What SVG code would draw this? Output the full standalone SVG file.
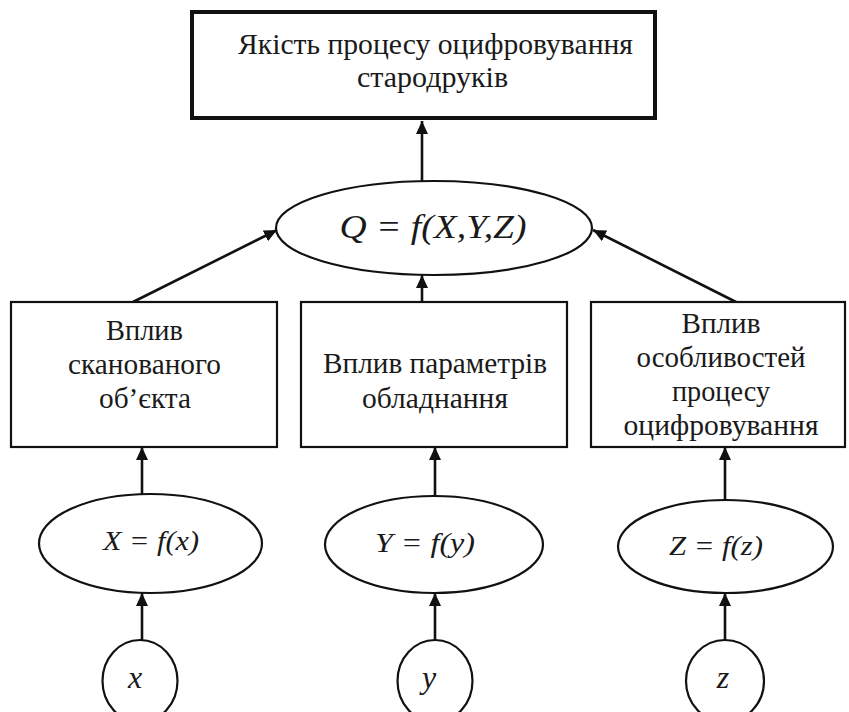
<svg xmlns="http://www.w3.org/2000/svg" width="849" height="712" viewBox="0 0 849 712">
<defs>
<marker id="ah" markerUnits="userSpaceOnUse" markerWidth="14" markerHeight="12" refX="13" refY="6" orient="auto">
<path d="M0,0 L13,6 L0,12 z" fill="#111"/>
</marker>
<style>
.box{fill:#fff;stroke:#111;stroke-width:2.2}
.top{fill:#fff;stroke:#111;stroke-width:4}
.ell{fill:#fff;stroke:#111;stroke-width:2.2}
.t{font-family:"Liberation Serif","Times New Roman",serif;font-size:29.5px;fill:#1a1a1a;text-anchor:middle}
.tt{font-family:"Liberation Serif","Times New Roman",serif;font-size:30px;fill:#1a1a1a;text-anchor:middle}
.m{font-family:"Liberation Serif","Times New Roman",serif;font-style:italic;fill:#1a1a1a;text-anchor:middle}
.c line{stroke:#111;stroke-width:2.6;marker-end:url(#ah)}
</style>
</defs>
<rect width="849" height="712" fill="#fff"/>
<g class="c" id="connectors">
<line x1="422" y1="181" x2="422" y2="121"/>
<line x1="133" y1="302" x2="277" y2="230"/>
<line x1="422" y1="302" x2="422" y2="275"/>
<line x1="736" y1="302" x2="593" y2="230"/>
<line x1="142" y1="494" x2="142" y2="447"/>
<line x1="435" y1="496" x2="435" y2="447"/>
<line x1="725" y1="500" x2="725" y2="447"/>
<line x1="142" y1="640" x2="142" y2="593"/>
<line x1="435" y1="640" x2="435" y2="593"/>
<line x1="725" y1="640" x2="725" y2="593"/>
</g>
<g id="quality">
<rect class="top" x="192" y="12" width="463" height="106"/>
<text class="tt" x="435.5" y="54" textLength="395" lengthAdjust="spacingAndGlyphs">Якість процесу оцифровування</text>
<text class="tt" x="432.5" y="87">стародруків</text>
</g>
<g id="Q">
<ellipse class="ell" cx="434" cy="228" rx="158" ry="47"/>
<text class="m" x="433" y="238" font-size="33" textLength="187" lengthAdjust="spacingAndGlyphs">Q = f(X,Y,Z)</text>
</g>
<g id="boxX">
<rect class="box" x="11" y="302" width="266" height="145"/>
<text class="t" x="144.5" y="340" textLength="77" lengthAdjust="spacingAndGlyphs">Вплив</text>
<text class="t" x="144.5" y="374" textLength="153" lengthAdjust="spacingAndGlyphs">сканованого</text>
<text class="t" x="145" y="408" textLength="92" lengthAdjust="spacingAndGlyphs">об’єкта</text>
</g>
<g id="boxY">
<rect class="box" x="301" y="302" width="266" height="145"/>
<text class="t" x="435" y="373" textLength="224" lengthAdjust="spacingAndGlyphs">Вплив параметрів</text>
<text class="t" x="435" y="408" textLength="146" lengthAdjust="spacingAndGlyphs">обладнання</text>
</g>
<g id="boxZ">
<rect class="box" x="591" y="302" width="254" height="145"/>
<text class="t" x="721" y="333" textLength="79" lengthAdjust="spacingAndGlyphs">Вплив</text>
<text class="t" x="721" y="367" textLength="169" lengthAdjust="spacingAndGlyphs">особливостей</text>
<text class="t" x="721" y="401" textLength="98" lengthAdjust="spacingAndGlyphs">процесу</text>
<text class="t" x="721" y="435" textLength="195" lengthAdjust="spacingAndGlyphs">оцифровування</text>
</g>
<g id="ellX">
<ellipse class="ell" cx="150.5" cy="543.5" rx="111.5" ry="49.5"/>
<text class="m" x="151" y="550" font-size="28" textLength="96" lengthAdjust="spacingAndGlyphs">X = f(x)</text>
</g>
<g id="ellY">
<ellipse class="ell" cx="434" cy="544.5" rx="109" ry="48.5"/>
<text class="m" x="425" y="552" font-size="28" textLength="100" lengthAdjust="spacingAndGlyphs">Y = f(y)</text>
</g>
<g id="ellZ">
<ellipse class="ell" cx="725.5" cy="546.5" rx="107.5" ry="46.5"/>
<text class="m" x="716" y="555" font-size="28" textLength="94" lengthAdjust="spacingAndGlyphs">Z = f(z)</text>
</g>
<g id="cx">
<ellipse class="ell" cx="140" cy="681" rx="37.5" ry="41"/>
<text class="m" x="135" y="688" font-size="32">x</text>
</g>
<g id="cy">
<ellipse class="ell" cx="435" cy="681" rx="37.5" ry="41"/>
<text class="m" x="429" y="688" font-size="32">y</text>
</g>
<g id="cz">
<ellipse class="ell" cx="725" cy="681" rx="39" ry="41"/>
<text class="m" x="723" y="688" font-size="32">z</text>
</g>
</svg>
